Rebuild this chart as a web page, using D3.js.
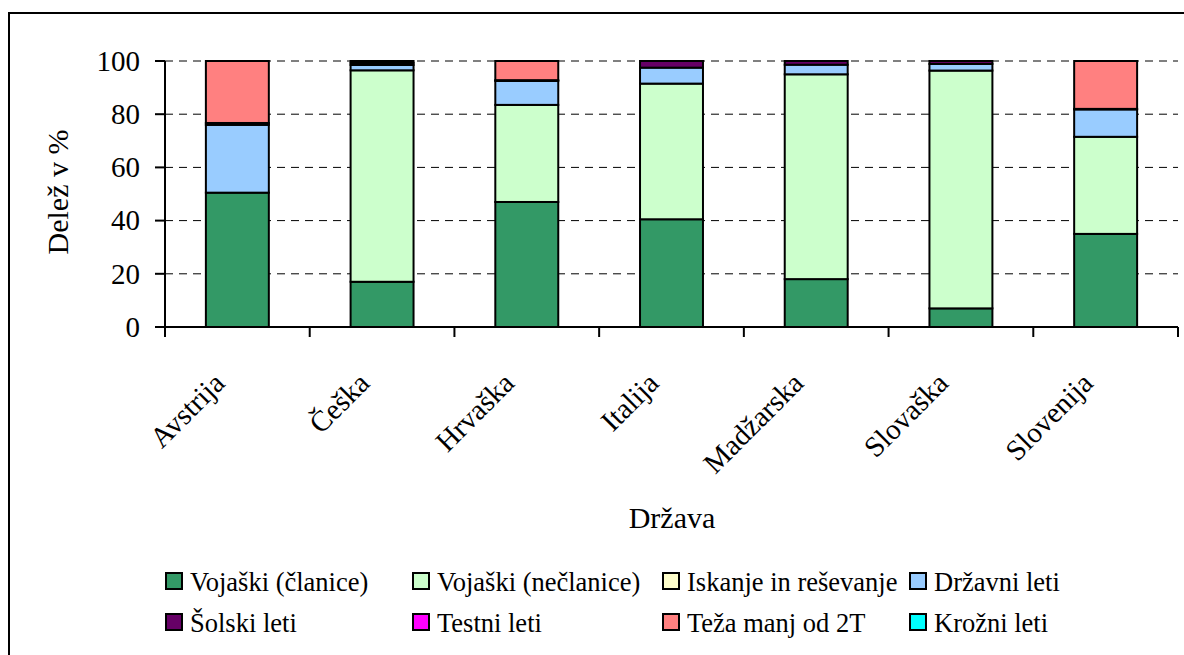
<!DOCTYPE html>
<html>
<head>
<meta charset="utf-8">
<script src="https://cdn.jsdelivr.net/npm/d3@7"></script>
<style>
  html, body { margin: 0; padding: 0; background: #fff; font-family: 'Times New Roman', 'Liberation Serif', Tinos, 'DejaVu Serif', serif; }
  #plotsvg { font-family: 'Times New Roman', 'Liberation Serif', Tinos, 'DejaVu Serif', serif; }
</style>
</head>
<body>
<svg id="plotsvg" width="1184" height="655"></svg>
<script>
const categories = ["Avstrija", "Češka", "Hrvaška", "Italija", "Madžarska", "Slovaška", "Slovenija"];
const seriesNames = ["Vojaški (članice)", "Vojaški (nečlanice)", "Iskanje in reševanje", "Državni leti",
                     "Šolski leti", "Testni leti", "Teža manj od 2T", "Krožni leti"];
const seriesColors = ["#339966", "#CCFFCC", "#FFFFCC", "#99CCFF", "#660066", "#FF00FF", "#FF8080", "#00FFFF"];
const vojaskiClanice   = [50.5, 17.0, 47.0, 40.5, 18.0,  7.0, 35.0];
const vojaskiNeclanice = [ 0.0, 79.5, 36.5, 51.0, 77.0, 89.4, 36.5];
const iskanje          = [ 0.0,  0.0,  0.0,  0.0,  0.0,  0.0,  0.0];
const drzavniLeti      = [25.5,  2.0,  9.0,  6.0,  3.6,  2.5, 10.3];
const solskiLeti       = [ 0.7,  0.8,  0.3,  2.5,  1.4,  1.1,  0.2];
const testniLeti       = [ 0.0,  0.0,  0.0,  0.0,  0.0,  0.0,  0.0];
const tezaManj2T       = [23.3,  0.7,  7.2,  0.0,  0.0,  0.0, 18.0];
const krozniLeti       = [ 0.0,  0.0,  0.0,  0.0,  0.0,  0.0,  0.0];
const yTicks = [0, 20, 40, 60, 80, 100];
const yTitle = "Delež v %";
const xTitle = "Država";

(function () {
const FONT = "'Times New Roman', 'Liberation Serif', Tinos, 'DejaVu Serif', serif";
const seriesValues = [vojaskiClanice, vojaskiNeclanice, iskanje, drzavniLeti, solskiLeti, testniLeti, tezaManj2T, krozniLeti];
const table = categories.map((c, i) => {
  const row = { cat: c };
  seriesNames.forEach((s, j) => row[s] = seriesValues[j][i]);
  return row;
});
function serif(sel, size) {
  return sel.attr("font-size", size).attr("font-family", FONT).style("font-family", FONT).attr("fill", "#000");
}

const svg = d3.select("#plotsvg");
const pLeft = 165, pRight = 1178, pTop = 61, pBottom = 327;

svg.append("rect").attr("x", 9).attr("y", 13).attr("width", 1200).attr("height", 700)
  .attr("fill", "#fff").attr("stroke", "#000").attr("stroke-width", 2);

const x = d3.scaleBand().domain(categories).range([pLeft, pRight]).paddingInner(0.565).paddingOuter(0.2825);
const y = d3.scaleLinear().domain([0, 100]).range([pBottom, pTop]);

svg.append("g").selectAll("line").data(yTicks.filter(t => t > 0)).join("line")
  .attr("x1", pLeft).attr("x2", pRight)
  .attr("y1", d => y(d)).attr("y2", d => y(d))
  .attr("stroke", "#000").attr("stroke-width", 1).attr("stroke-dasharray", "8,6");

const stacked = d3.stack().keys(seriesNames)(table);
const gBars = svg.append("g");
stacked.forEach((layer, j) => {
  gBars.append("g").selectAll("rect").data(layer.filter(d => d[1] - d[0] > 0)).join("rect")
    .attr("x", d => x(d.data.cat))
    .attr("width", x.bandwidth())
    .attr("y", d => y(d[1]))
    .attr("height", d => y(d[0]) - y(d[1]))
    .attr("fill", seriesColors[j])
    .attr("stroke", "#000").attr("stroke-width", 2);
});

// y axis
const gy = svg.append("g").attr("transform", `translate(${pLeft},0)`);
gy.append("line").attr("x1", 0).attr("x2", 0).attr("y1", pTop).attr("y2", pBottom + 10)
  .attr("stroke", "#000").attr("stroke-width", 2);
gy.selectAll("line.tk").data(yTicks).join("line").attr("class", "tk")
  .attr("x1", -10).attr("x2", 0).attr("y1", d => y(d)).attr("y2", d => y(d))
  .attr("stroke", "#000").attr("stroke-width", 2);
serif(gy.selectAll("text").data(yTicks).join("text")
  .attr("x", -25).attr("y", d => y(d)).attr("dy", "0.34em").attr("text-anchor", "end")
  .text(d => d), 29);

// x axis
const gx = svg.append("g").attr("transform", `translate(0,${pBottom})`);
gx.append("line").attr("x1", pLeft).attr("x2", pRight).attr("y1", 0).attr("y2", 0)
  .attr("stroke", "#000").attr("stroke-width", 2);
gx.selectAll("line.tk").data(categories.map((c, i) => i)).join("line").attr("class", "tk")
  .attr("x1", i => pLeft + x.step() * (i + 1)).attr("x2", i => pLeft + x.step() * (i + 1))
  .attr("y1", 0).attr("y2", 10).attr("stroke", "#000").attr("stroke-width", 2);
serif(gx.selectAll("text").data(categories).join("text")
  .attr("transform", d => `translate(${x(d) + x.bandwidth() / 2 - 18},51) rotate(-45)`)
  .attr("text-anchor", "end").attr("dy", "0.34em").text(d => d), 29);

serif(svg.append("text").attr("x", 672).attr("y", 528).attr("text-anchor", "middle").text(xTitle), 30);
serif(svg.append("text").attr("transform", "translate(58,192) rotate(-90)")
  .attr("text-anchor", "middle").attr("dy", "0.34em").text(yTitle), 30);

const legendCols = [165, 412, 662, 909];
const legendRows = [591, 632];
const lg = svg.append("g");
seriesNames.forEach((s, i) => {
  const cx = legendCols[i % 4], by = legendRows[Math.floor(i / 4)];
  lg.append("rect").attr("x", cx + 1).attr("y", by - 18).attr("width", 16).attr("height", 16)
    .attr("fill", seriesColors[i]).attr("stroke", "#000").attr("stroke-width", 2);
  serif(lg.append("text").attr("x", cx + 25).attr("y", by).text(s), 26.5);
});
})();
</script>
</body>
</html>
